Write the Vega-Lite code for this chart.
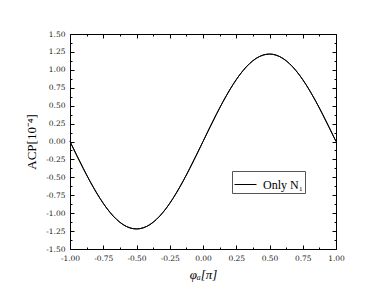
{
  "$schema": "https://vega.github.io/schema/vega-lite/v6.json",
  "width": 266,
  "height": 215,
  "autosize": {"type": "none"},
  "padding": {"left": 70, "top": 34, "right": 54, "bottom": 50},
  "background": "white",
  "config": {
    "font": "Liberation Serif",
    "view": {"stroke": "black", "strokeWidth": 1},
    "axis": {
      "domain": false,
      "grid": false,
      "tickColor": "black",
      "tickWidth": 1,
      "labelColor": "#222",
      "labelFont": "DejaVu Serif",
      "labelFontSize": 7.5,
      "titleColor": "black",
      "titleFont": "Liberation Serif",
      "titleFontWeight": "normal",
      "titleFontSize": 13,
      "labelOverlap": false,
      "labelBound": false,
      "labelFlush": false
    }
  },
  "data": {
    "values": [
      {"phi": -1.00, "A": 0},
      {"phi": -0.95, "A": -0.1909},
      {"phi": -0.90, "A": -0.3770},
      {"phi": -0.85, "A": -0.5539},
      {"phi": -0.80, "A": -0.7171},
      {"phi": -0.75, "A": -0.8627},
      {"phi": -0.70, "A": -0.9870},
      {"phi": -0.65, "A": -1.0870},
      {"phi": -0.60, "A": -1.1603},
      {"phi": -0.55, "A": -1.2050},
      {"phi": -0.50, "A": -1.2200},
      {"phi": -0.45, "A": -1.2050},
      {"phi": -0.40, "A": -1.1603},
      {"phi": -0.35, "A": -1.0870},
      {"phi": -0.30, "A": -0.9870},
      {"phi": -0.25, "A": -0.8627},
      {"phi": -0.20, "A": -0.7171},
      {"phi": -0.15, "A": -0.5539},
      {"phi": -0.10, "A": -0.3770},
      {"phi": -0.05, "A": -0.1909},
      {"phi": 0.00, "A": 0},
      {"phi": 0.05, "A": 0.1909},
      {"phi": 0.10, "A": 0.3770},
      {"phi": 0.15, "A": 0.5539},
      {"phi": 0.20, "A": 0.7171},
      {"phi": 0.25, "A": 0.8627},
      {"phi": 0.30, "A": 0.9870},
      {"phi": 0.35, "A": 1.0870},
      {"phi": 0.40, "A": 1.1603},
      {"phi": 0.45, "A": 1.2050},
      {"phi": 0.50, "A": 1.2200},
      {"phi": 0.55, "A": 1.2050},
      {"phi": 0.60, "A": 1.1603},
      {"phi": 0.65, "A": 1.0870},
      {"phi": 0.70, "A": 0.9870},
      {"phi": 0.75, "A": 0.8627},
      {"phi": 0.80, "A": 0.7171},
      {"phi": 0.85, "A": 0.5539},
      {"phi": 0.90, "A": 0.3770},
      {"phi": 0.95, "A": 0.1909},
      {"phi": 1.00, "A": 0}
    ]
  },
  "layer": [
    {
      "mark": {"type": "line", "interpolate": "monotone", "strokeWidth": 1},
      "encoding": {
        "x": {
          "field": "phi", "type": "quantitative",
          "scale": {"domain": [-1, 1], "nice": false, "zero": false},
          "axis": {
            "orient": "bottom",
            "title": "φₐ[π]",
            "titleFontStyle": "italic",
            "titlePadding": 5,
            "values": [-1, -0.875, -0.75, -0.625, -0.5, -0.375, -0.25, -0.125, 0, 0.125, 0.25, 0.375, 0.5, 0.625, 0.75, 0.875, 1],
            "labelExpr": "abs(datum.value*4 - round(datum.value*4)) < 0.001 ? replace(format(datum.value, '.2f'), '−', '-') : ''",
            "tickSize": {"condition": {"test": "abs(datum.value*4 - round(datum.value*4)) < 0.001", "value": -4}, "value": -2},
            "labelPadding": 9
          }
        },
        "y": {
          "field": "A", "type": "quantitative",
          "scale": {"domain": [-1.5, 1.5], "nice": false, "zero": false},
          "axis": {
            "orient": "left",
            "title": "ACP[10⁻⁴]",
            "titlePadding": 7,
            "values": [-1.5, -1.375, -1.25, -1.125, -1, -0.875, -0.75, -0.625, -0.5, -0.375, -0.25, -0.125, 0, 0.125, 0.25, 0.375, 0.5, 0.625, 0.75, 0.875, 1, 1.125, 1.25, 1.375, 1.5],
            "labelExpr": "abs(datum.value*4 - round(datum.value*4)) < 0.001 ? replace(format(datum.value, '.2f'), '−', '-') : ''",
            "tickSize": {"condition": {"test": "abs(datum.value*4 - round(datum.value*4)) < 0.001", "value": -4}, "value": -2},
            "labelPadding": 9
          }
        },
        "color": {
          "datum": "Only N₁",
          "type": "nominal",
          "scale": {"range": ["black"]},
          "legend": {
            "title": null,
            "orient": "none",
            "legendX": 162,
            "legendY": 137,
            "symbolType": "stroke",
            "symbolSize": 484,
            "symbolStrokeWidth": 1,
            "labelOffset": 6,
            "labelFont": "Liberation Serif",
            "labelFontSize": 12,
            "labelColor": "black",
            "strokeColor": "#555",
            "fillColor": "white",
            "padding": 2
          }
        }
      }
    },
    {
      "mark": {"type": "line", "interpolate": "monotone", "strokeWidth": 1, "color": "black"},
      "encoding": {
        "x": {
          "field": "phi", "type": "quantitative",
          "scale": {"domain": [-1, 1], "nice": false, "zero": false},
          "axis": {
            "orient": "top",
            "title": null,
            "labels": false,
            "values": [-1, -0.875, -0.75, -0.625, -0.5, -0.375, -0.25, -0.125, 0, 0.125, 0.25, 0.375, 0.5, 0.625, 0.75, 0.875, 1],
            "tickSize": {"condition": {"test": "abs(datum.value*4 - round(datum.value*4)) < 0.001", "value": -4}, "value": -2}
          }
        },
        "y": {
          "field": "A", "type": "quantitative",
          "scale": {"domain": [-1.5, 1.5], "nice": false, "zero": false},
          "axis": {
            "orient": "right",
            "title": null,
            "labels": false,
            "values": [-1.5, -1.375, -1.25, -1.125, -1, -0.875, -0.75, -0.625, -0.5, -0.375, -0.25, -0.125, 0, 0.125, 0.25, 0.375, 0.5, 0.625, 0.75, 0.875, 1, 1.125, 1.25, 1.375, 1.5],
            "tickSize": {"condition": {"test": "abs(datum.value*4 - round(datum.value*4)) < 0.001", "value": -4}, "value": -2}
          }
        }
      }
    }
  ],
  "resolve": {"axis": {"x": "independent", "y": "independent"}}
}
